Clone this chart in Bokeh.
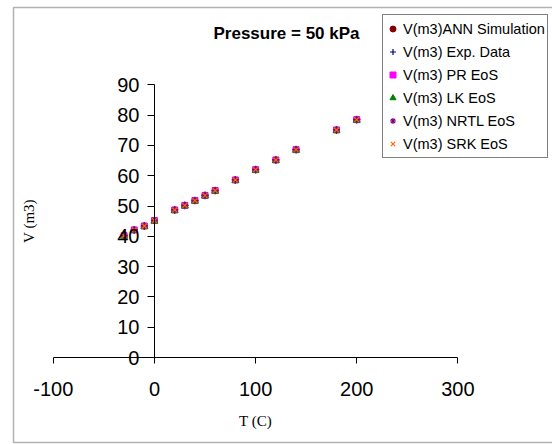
from bokeh.plotting import figure
from bokeh.models import (FixedTicker, Legend, LegendItem, BoxAnnotation, Label,
                          Range1d, CustomJSTickFormatter)
from bokeh.embed import file_html
from bokeh.resources import INLINE

# Data
temperature_c = [-30, -20, -10, 0, 20, 30, 40, 50, 60, 80, 100, 120, 140, 180, 200]
v_ann = [40.2, 42.1, 43.4, 45.2, 48.7, 50.2, 51.8, 53.5, 55.1, 58.6, 62.0, 65.2, 68.6, 75.1, 78.5]
v_exp = [40.1, 42.0, 43.2, 45.1, 48.6, 50.1, 51.7, 53.4, 55.0, 58.5, 61.9, 65.1, 68.5, 75.0, 78.4]
v_pr = [40.2, 42.1, 43.4, 45.2, 48.7, 50.2, 51.8, 53.5, 55.1, 58.6, 62.0, 65.2, 68.6, 75.1, 78.5]
v_lk = [40.0, 41.9, 43.2, 45.0, 48.5, 50.0, 51.6, 53.3, 54.9, 58.4, 61.8, 65.0, 68.4, 74.9, 78.3]
v_nrtl = [40.3, 42.2, 43.5, 45.3, 48.8, 50.3, 51.9, 53.6, 55.2, 58.7, 62.1, 65.3, 68.7, 75.2, 78.6]
v_srk = [40.2, 42.1, 43.4, 45.2, 48.7, 50.2, 51.8, 53.5, 55.1, 58.6, 62.0, 65.2, 68.6, 75.1, 78.5]

series_labels = ["V(m3)ANN Simulation", "V(m3) Exp. Data", "V(m3) PR EoS",
                 "V(m3) LK EoS", "V(m3) NRTL EoS", "V(m3) SRK EoS"]
x_ticks = [-100, 0, 100, 200, 300]
y_ticks = [0, 10, 20, 30, 40, 50, 60, 70, 80, 90]
x_axis_bounds = (-100, 300)
y_axis_bounds = (0, 90)
chart_title = "Pressure = 50 kPa"

SANS = "Liberation Sans"
SERIF = "Liberation Serif"

W, H = 552, 444
# pixel placement of the plot area (layout only)
PX_LEFT, PX_RIGHT = 52.8, 457.4
PX_TOP, PX_BOTTOM = 84.3, 357.0
sx = (PX_RIGHT - PX_LEFT) / (x_axis_bounds[1] - x_axis_bounds[0])
sy = (PX_BOTTOM - PX_TOP) / (y_axis_bounds[1] - y_axis_bounds[0])
x_range = Range1d(x_axis_bounds[0] - PX_LEFT / sx, x_axis_bounds[1] + (W - PX_RIGHT) / sx)
y_range = Range1d(y_axis_bounds[0] - (H - PX_BOTTOM) / sy, y_axis_bounds[1] + PX_TOP / sy)

p = figure(width=W, height=H, x_range=x_range, y_range=y_range,
           output_backend="svg", toolbar_location=None,
           min_border=0)
p.title.visible = False
p.outline_line_color = None
p.grid.visible = False
p.background_fill_color = "white"
p.border_fill_color = "white"

# Axes crossing at zero
p.xaxis.fixed_location = 0
p.yaxis.fixed_location = 0
p.xaxis.bounds = x_axis_bounds
p.yaxis.bounds = y_axis_bounds
plain = CustomJSTickFormatter(code="return String(tick)")
for ax in (p.xaxis, p.yaxis):
    ax.formatter = plain
    ax.axis_line_color = "black"
    ax.axis_line_width = 1
    ax.major_tick_line_color = "black"
    ax.minor_tick_line_color = None
    ax.major_tick_in = 0
    ax.major_label_text_font = SANS
    ax.major_label_text_font_size = "20px"
    ax.major_label_text_color = "black"
    ax.axis_label_text_font = SERIF
    ax.axis_label_text_font_size = "15px"
    ax.axis_label_text_font_style = "normal"
    ax.axis_label_text_color = "black"

p.xaxis.ticker = FixedTicker(ticks=x_ticks)
p.yaxis.ticker = FixedTicker(ticks=y_ticks)
p.xaxis.major_tick_out = 6
p.yaxis.major_tick_out = 7
p.xaxis.major_label_standoff = 18
p.yaxis.major_label_standoff = 8
p.xaxis.axis_label = "T (C)"
p.yaxis.axis_label = "V (m3)"
p.xaxis.axis_label_standoff = 14
p.yaxis.axis_label_standoff = 77

# Series
r_ann = p.scatter(temperature_c, v_ann, marker="circle", size=6,
                  fill_color="#800000", line_color="#800000")
r_exp = p.scatter(temperature_c, v_exp, marker="cross", size=7,
                  line_color="#000080", line_width=1.2)
r_pr = p.scatter(temperature_c, v_pr, marker="square", size=6,
                 fill_color="#FF00FF", line_color="#FF00FF")
r_lk = p.scatter(temperature_c, v_lk, marker="triangle", size=7,
                 fill_color="#008000", line_color="#008000")
r_nrtl = p.scatter(temperature_c, v_nrtl, marker="asterisk", size=7,
                   line_color="#800080", line_width=1.2)
r_srk = p.scatter(temperature_c, v_srk, marker="x", size=7,
                  line_color="#FF6600", line_width=1.2)

renderers = [r_ann, r_exp, r_pr, r_lk, r_nrtl, r_srk]
legend = Legend(items=[LegendItem(label=lab, renderers=[r])
                       for lab, r in zip(series_labels, renderers)],
                location=(382, H - 158))
legend.label_text_font = SANS
legend.label_text_font_size = "14.5px"
legend.label_text_color = "black"
legend.border_line_color = "black"
legend.border_line_width = 1
legend.background_fill_color = "white"
legend.background_fill_alpha = 1
legend.padding = 2
legend.spacing = 0
legend.label_height = 23
legend.glyph_height = 23
legend.glyph_width = 15
legend.label_standoff = 3
legend.margin = 0
p.add_layout(legend, "center")

# Chart title
title = Label(x=286, y=33, x_units="canvas", y_units="canvas", text=chart_title,
              text_align="center", text_baseline="middle",
              text_font=SANS, text_font_size="17px", text_font_style="bold",
              text_color="black")
p.add_layout(title)

# Outer chart-area border
border = BoxAnnotation(left=13, right=600, top=7, bottom=442,
                       left_units="canvas", right_units="canvas",
                       top_units="canvas", bottom_units="canvas",
                       fill_alpha=0, line_color="black", line_width=1.5)
p.add_layout(border)

open("out.html", "w").write(file_html(p, INLINE))
